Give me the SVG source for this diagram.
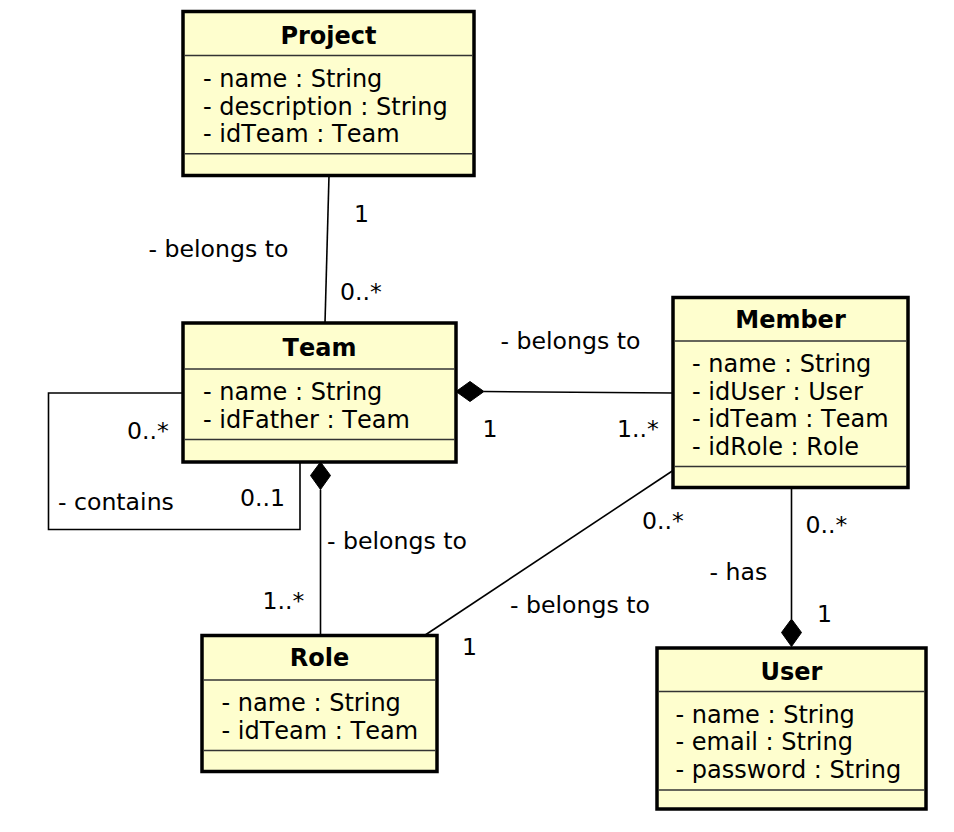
<svg xmlns="http://www.w3.org/2000/svg" width="954" height="832" viewBox="0 0 954 832">
<style>
text{font-family:"DejaVu Sans","Liberation Sans",sans-serif;font-size:24px;fill:#000;font-kerning:none}
.l{font-size:23.6px}
.t{font-weight:bold;text-anchor:middle}
.box{fill:#FEFECE;stroke:#000;stroke-width:3.5}
.sep{stroke:#333;stroke-width:1.4}
.c{fill:none;stroke:#000;stroke-width:1.6}
.d{fill:#000;stroke:#000;stroke-width:1}
</style>
<rect width="954" height="832" fill="#fff"/>
<g id="connectors">
<line class="c" x1="329" y1="175.5" x2="325" y2="323"/>
<text class="l" x="354" y="222">1</text>
<text class="l" x="148.5" y="257">- belongs to</text>
<text class="l" x="340" y="300">0..*</text>
<line class="c" x1="484" y1="391.5" x2="673" y2="393"/>
<polygon class="d" points="456,391.5 470,381.5 484,391.5 470,401.5"/>
<text class="l" x="500.5" y="348.5">- belongs to</text>
<text class="l" x="482.5" y="436.5">1</text>
<text class="l" x="617" y="436.5">1..*</text>
<polyline class="c" points="183,393 48.5,393 48.5,529.5 300,529.5 300,462"/>
<text class="l" x="127" y="439">0..*</text>
<text class="l" x="58" y="509.5">- contains</text>
<text class="l" x="240" y="506">0..1</text>
<line class="c" x1="320.5" y1="489.5" x2="320.5" y2="635.5"/>
<polygon class="d" points="320.5,462 330.5,475.5 320.5,489.5 310.5,475.5"/>
<text class="l" x="327" y="549">- belongs to</text>
<text class="l" x="262.5" y="609">1..*</text>
<line class="c" x1="673" y1="470.5" x2="424.5" y2="635.5"/>
<text class="l" x="642" y="529">0..*</text>
<text class="l" x="510" y="613">- belongs to</text>
<text class="l" x="462" y="655">1</text>
<line class="c" x1="791.5" y1="487.5" x2="791.5" y2="619"/>
<polygon class="d" points="791.5,619 801.5,632.5 791.5,646.5 781.5,632.5"/>
<text class="l" x="805.5" y="533">0..*</text>
<text class="l" x="709.5" y="579.5">- has</text>
<text class="l" x="817" y="622">1</text>
</g>
<g id="project">
<rect class="box" x="183" y="11.5" width="291" height="164"/>
<line class="sep" x1="184.5" y1="55.5" x2="472.5" y2="55.5"/>
<line class="sep" x1="184.5" y1="153.7" x2="472.5" y2="153.7"/>
<text class="t" x="328.5" y="44">Project</text>
<text x="203" y="87">- name : String</text>
<text x="203" y="114.5">- description : String</text>
<text x="203" y="142">- idTeam : Team</text>
</g>
<g id="team">
<rect class="box" x="183" y="323" width="273" height="139"/>
<line class="sep" x1="184.5" y1="369" x2="454.5" y2="369"/>
<line class="sep" x1="184.5" y1="439.5" x2="454.5" y2="439.5"/>
<text class="t" x="319.5" y="356">Team</text>
<text x="203" y="400">- name : String</text>
<text x="203" y="427.5">- idFather : Team</text>
</g>
<g id="member">
<rect class="box" x="673" y="297.5" width="235" height="190"/>
<line class="sep" x1="674.5" y1="341" x2="906.5" y2="341"/>
<line class="sep" x1="674.5" y1="466.5" x2="906.5" y2="466.5"/>
<text class="t" x="790.5" y="328">Member</text>
<text x="692" y="372">- name : String</text>
<text x="692" y="399.5">- idUser : User</text>
<text x="692" y="427">- idTeam : Team</text>
<text x="692" y="454.5">- idRole : Role</text>
</g>
<g id="role">
<rect class="box" x="202" y="635.5" width="235" height="136"/>
<line class="sep" x1="203.5" y1="680" x2="435.5" y2="680"/>
<line class="sep" x1="203.5" y1="750.5" x2="435.5" y2="750.5"/>
<text class="t" x="319.5" y="666">Role</text>
<text x="221.5" y="711">- name : String</text>
<text x="221.5" y="738.5">- idTeam : Team</text>
</g>
<g id="user">
<rect class="box" x="657" y="648" width="269" height="161"/>
<line class="sep" x1="658.5" y1="691.5" x2="924.5" y2="691.5"/>
<line class="sep" x1="658.5" y1="790" x2="924.5" y2="790"/>
<text class="t" x="791.5" y="679.5">User</text>
<text x="675.5" y="722.5">- name : String</text>
<text x="675.5" y="750">- email : String</text>
<text x="675.5" y="777.5">- password : String</text>
</g>
</svg>
